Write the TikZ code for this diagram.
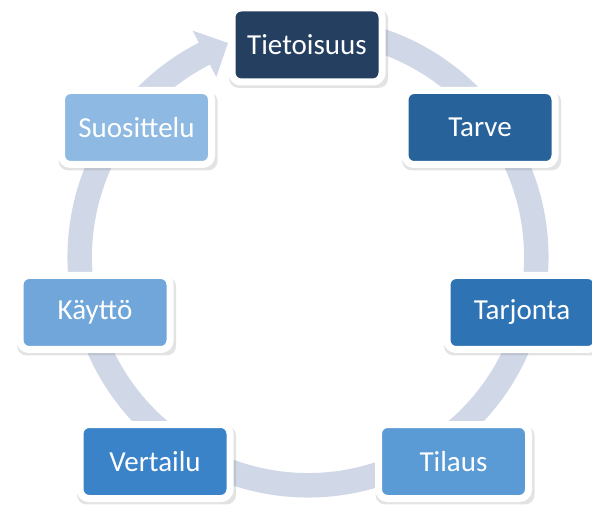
\documentclass[tikz,border=0pt]{standalone}
\usepackage{fontspec}
\setmainfont{Carlito}
\usetikzlibrary{shadows}
\definecolor{ringgray}{RGB}{208,216,232}
\definecolor{cTietoisuus}{RGB}{37,63,96}
\definecolor{cTarve}{RGB}{39,98,154}
\definecolor{cTarjonta}{RGB}{46,115,180}
\definecolor{cTilaus}{RGB}{91,155,213}
\definecolor{cVertailu}{RGB}{58,131,201}
\definecolor{cKaytto}{RGB}{112,166,218}
\definecolor{cSuosittelu}{RGB}{141,185,226}
\tikzset{
	stage/.style={draw=white, line width=7pt, rounded corners=9pt, minimum width=150pt, minimum height=74pt, text=white, font=\fontsize{29}{30}\selectfont, drop shadow={opacity=0.22, shadow xshift=1.5pt, shadow yshift=-3.5pt, shadow scale=1.06}}
}
\begin{document}
\begin{tikzpicture}[x=1pt, y=1pt]
	\clip (0,0) rectangle (592,504);
	\fill[white] (0,0) rectangle (592,504);
	% ring with arrow head
	\begin{scope}[shift={(308,247)}]
		\fill[ringgray] (80:240.5) arc[start angle=80, end angle=-243, radius=240.5] -- (-243:254) -- (-249.5:228.5) -- (-243:202) -- (-243:216) arc[start angle=-243, end angle=80, radius=216] -- cycle;
	\end{scope}
	% stages
	\node[stage, fill=cTietoisuus] (Tietoisuus) at (307,459) {Tietoisuus};
	\node[stage, fill=cTarve] (Tarve) at (480,376.5) {Tarve};
	\node[stage, fill=cTarjonta] (Tarjonta) at (522,191.5) {Tarjonta};
	\node[stage, fill=cTilaus] (Tilaus) at (453.5,42.5) {Tilaus};
	\node[stage, fill=cVertailu] (Vertailu) at (155,42.5) {Vertailu};
	\node[stage, fill=cKaytto] (Kaytto) at (95,191.5) {Käyttö};
	\node[stage, fill=cSuosittelu] (Suosittelu) at (136.5,376.5) {Suosittelu};
\end{tikzpicture}
\end{document}
